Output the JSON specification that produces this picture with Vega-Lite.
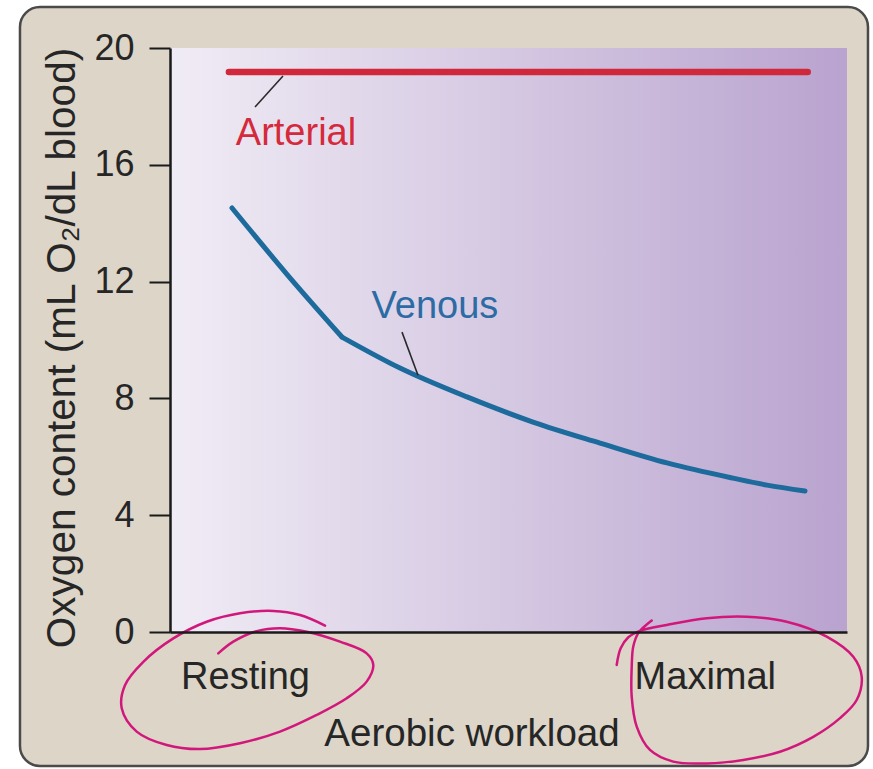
{
  "$schema": "https://vega.github.io/schema/vega-lite/v6.json",
  "width": 677,
  "height": 584,
  "autosize": "none",
  "padding": {"left": 170, "top": 48, "right": 26, "bottom": 137},
  "background": "white",
  "config": {
    "view": {"stroke": null},
    "font": "Liberation Sans",
    "axis": {"grid": false}
  },
  "datasets": {
    "arterial": [
      {"x": 8.7, "o2": 19.18},
      {"x": 94.2, "o2": 19.18}
    ],
    "venous": [
      {"seg": "a", "x": 9.16, "o2": 14.52},
      {"seg": "a", "x": 17.28, "o2": 12.25},
      {"seg": "a", "x": 25.41, "o2": 10.1},
      {"seg": "b", "x": 25.41, "o2": 10.1},
      {"seg": "b", "x": 33.97, "o2": 9.04},
      {"seg": "b", "x": 43.87, "o2": 8.05},
      {"seg": "b", "x": 53.62, "o2": 7.19},
      {"seg": "b", "x": 63.52, "o2": 6.47},
      {"seg": "b", "x": 73.41, "o2": 5.79},
      {"seg": "b", "x": 83.16, "o2": 5.27},
      {"seg": "b", "x": 88.18, "o2": 5.03},
      {"seg": "b", "x": 93.8, "o2": 4.83}
    ],
    "leaders": [
      {"x": 16.69, "o2": 19.04, "x2": 12.56, "o22": 17.98},
      {"x": 34.27, "o2": 10.27, "x2": 36.63, "o22": 8.79}
    ],
    "labels": [
      {"label": "Arterial", "x": 18.61, "o2": 16.68, "series": "Arterial"},
      {"label": "Venous", "x": 39.14, "o2": 10.74, "series": "Venous"}
    ],
    "circles": [
      {"circle": "Resting", "i": 0, "x": 7.13, "o2": -0.73},
      {"circle": "Resting", "i": 1, "x": 9.35, "o2": -0.33},
      {"circle": "Resting", "i": 2, "x": 12.81, "o2": 0.03},
      {"circle": "Resting", "i": 3, "x": 16.25, "o2": 0.13},
      {"circle": "Resting", "i": 4, "x": 20.19, "o2": 0.01},
      {"circle": "Resting", "i": 5, "x": 25.11, "o2": -0.33},
      {"circle": "Resting", "i": 6, "x": 29.05, "o2": -0.73},
      {"circle": "Resting", "i": 7, "x": 30.03, "o2": -1.13},
      {"circle": "Resting", "i": 8, "x": 29.05, "o2": -1.7},
      {"circle": "Resting", "i": 9, "x": 26.1, "o2": -2.27},
      {"circle": "Resting", "i": 10, "x": 21.67, "o2": -2.84},
      {"circle": "Resting", "i": 11, "x": 16.25, "o2": -3.41},
      {"circle": "Resting", "i": 12, "x": 10.34, "o2": -3.81},
      {"circle": "Resting", "i": 13, "x": 4.43, "o2": -4.01},
      {"circle": "Resting", "i": 14, "x": -0.49, "o2": -3.87},
      {"circle": "Resting", "i": 15, "x": -4.92, "o2": -3.41},
      {"circle": "Resting", "i": 16, "x": -7.13, "o2": -2.61},
      {"circle": "Resting", "i": 17, "x": -6.65, "o2": -1.82},
      {"circle": "Resting", "i": 18, "x": -3.94, "o2": -1.02},
      {"circle": "Resting", "i": 19, "x": 0.49, "o2": -0.22},
      {"circle": "Resting", "i": 20, "x": 5.42, "o2": 0.35},
      {"circle": "Resting", "i": 21, "x": 10.34, "o2": 0.64},
      {"circle": "Resting", "i": 22, "x": 15.26, "o2": 0.72},
      {"circle": "Resting", "i": 23, "x": 19.2, "o2": 0.58},
      {"circle": "Resting", "i": 24, "x": 22.9, "o2": 0.22},
      {"circle": "Maximal", "i": 0, "x": 65.98, "o2": -1.13},
      {"circle": "Maximal", "i": 1, "x": 66.57, "o2": -0.56},
      {"circle": "Maximal", "i": 2, "x": 67.7, "o2": -0.18},
      {"circle": "Maximal", "i": 3, "x": 69.42, "o2": 0.04},
      {"circle": "Maximal", "i": 4, "x": 73.37, "o2": 0.24},
      {"circle": "Maximal", "i": 5, "x": 79.28, "o2": 0.47},
      {"circle": "Maximal", "i": 6, "x": 85.18, "o2": 0.52},
      {"circle": "Maximal", "i": 7, "x": 91.09, "o2": 0.35},
      {"circle": "Maximal", "i": 8, "x": 97.0, "o2": -0.16},
      {"circle": "Maximal", "i": 9, "x": 100.93, "o2": -0.85},
      {"circle": "Maximal", "i": 10, "x": 102.17, "o2": -1.53},
      {"circle": "Maximal", "i": 11, "x": 101.43, "o2": -2.33},
      {"circle": "Maximal", "i": 12, "x": 98.97, "o2": -2.95},
      {"circle": "Maximal", "i": 13, "x": 95.02, "o2": -3.59},
      {"circle": "Maximal", "i": 14, "x": 90.1, "o2": -4.1},
      {"circle": "Maximal", "i": 15, "x": 84.68, "o2": -4.38},
      {"circle": "Maximal", "i": 16, "x": 79.28, "o2": -4.5},
      {"circle": "Maximal", "i": 17, "x": 74.34, "o2": -4.44},
      {"circle": "Maximal", "i": 18, "x": 70.9, "o2": -4.04},
      {"circle": "Maximal", "i": 19, "x": 68.94, "o2": -3.24},
      {"circle": "Maximal", "i": 20, "x": 68.2, "o2": -2.22},
      {"circle": "Maximal", "i": 21, "x": 68.2, "o2": -1.19},
      {"circle": "Maximal", "i": 22, "x": 68.43, "o2": -0.5},
      {"circle": "Maximal", "i": 23, "x": 69.17, "o2": -0.04},
      {"circle": "Maximal", "i": 24, "x": 71.15, "o2": 0.39}
    ]
  },
  "layer": [
    {
      "data": {"values": [{}]},
      "mark": {"type": "rect", "fill": "#dcd5c8", "stroke": "#4a4a4a", "strokeWidth": 2.5, "cornerRadius": 20, "clip": false},
      "encoding": {
        "x": {
          "datum": -22.16, "type": "quantitative",
          "scale": {"domain": [0, 100], "nice": false, "zero": false},
          "axis": {
            "zindex": 2,
            "values": [11.08, 79.0],
            "labelExpr": "datum.value < 50 ? 'Resting' : 'Maximal'",
            "ticks": false, "tickSize": 0,
            "labelFontSize": 38, "labelColor": "#262626", "labelBaseline": "alphabetic", "labelPadding": 56,
            "labelFlush": false, "labelOverlap": false,
            "domainColor": "#1a1a1a", "domainWidth": 2.5,
            "title": "Aerobic workload", "titleFontSize": 38.5, "titleFontWeight": "normal", "titleColor": "#262626",
            "titleX": 301.5, "titleY": 113, "titleAlign": "center", "titleBaseline": "alphabetic"
          }
        },
        "x2": {"datum": 103.1},
        "y": {
          "datum": 21.4, "type": "quantitative",
          "scale": {"domain": [0, 20], "nice": false},
          "axis": {
            "zindex": 2,
            "values": [0, 4, 8, 12, 16, 20],
            "tickSize": 21, "tickWidth": 2, "tickColor": "#1a1a1a",
            "labelFontSize": 36, "labelColor": "#262626", "labelPadding": 15,
            "domainColor": "#1a1a1a", "domainWidth": 2.5,
            "title": "Oxygen content (mL O₂/dL blood)", "titleFontSize": 40.5, "titleFontWeight": "normal", "titleColor": "#262626",
            "titleAngle": -90, "titleX": -96, "titleY": 299.5, "titleAlign": "center", "titleBaseline": "alphabetic"
          }
        },
        "y2": {"datum": -4.59}
      }
    },
    {
      "data": {"values": [{}]},
      "mark": {
        "type": "rect",
        "fill": {"gradient": "linear", "x1": 0, "y1": 0, "x2": 1, "y2": 0,
          "stops": [
            {"offset": 0, "color": "#f0ecf5"},
            {"offset": 0.5, "color": "#d5c8e2"},
            {"offset": 1, "color": "#b9a3cf"}
          ]}
      },
      "encoding": {
        "x": {"datum": 0, "type": "quantitative"},
        "x2": {"datum": 100},
        "y": {"datum": 20, "type": "quantitative"},
        "y2": {"datum": 0}
      }
    },
    {
      "data": {"name": "arterial"},
      "mark": {"type": "line", "color": "#d0283a", "strokeWidth": 6.5, "strokeCap": "round"},
      "encoding": {
        "x": {"field": "x", "type": "quantitative"},
        "y": {"field": "o2", "type": "quantitative"}
      }
    },
    {
      "data": {"name": "venous"},
      "mark": {"type": "line", "color": "#1d6a9c", "strokeWidth": 5, "strokeCap": "round", "strokeJoin": "round", "interpolate": "monotone"},
      "encoding": {
        "x": {"field": "x", "type": "quantitative"},
        "y": {"field": "o2", "type": "quantitative"},
        "detail": {"field": "seg"}
      }
    },
    {
      "data": {"name": "leaders"},
      "mark": {"type": "rule", "color": "#2a2a2a", "strokeWidth": 1.6},
      "encoding": {
        "x": {"field": "x", "type": "quantitative"},
        "y": {"field": "o2", "type": "quantitative"},
        "x2": {"field": "x2"},
        "y2": {"field": "o22"}
      }
    },
    {
      "data": {"name": "labels"},
      "mark": {"type": "text", "fontSize": 38, "align": "center", "baseline": "alphabetic"},
      "encoding": {
        "x": {"field": "x", "type": "quantitative"},
        "y": {"field": "o2", "type": "quantitative"},
        "text": {"field": "label"},
        "color": {"field": "series", "type": "nominal", "scale": {"domain": ["Arterial", "Venous"], "range": ["#d42a3c", "#2c6ba4"]}, "legend": null}
      }
    },
    {
      "data": {"name": "circles"},
      "mark": {"type": "line", "color": "#d2177c", "strokeWidth": 2.5, "interpolate": "catmull-rom", "clip": false, "strokeCap": "round"},
      "encoding": {
        "x": {"field": "x", "type": "quantitative"},
        "y": {"field": "o2", "type": "quantitative"},
        "detail": {"field": "circle"},
        "order": {"field": "i", "type": "quantitative"}
      }
    }
  ]
}
